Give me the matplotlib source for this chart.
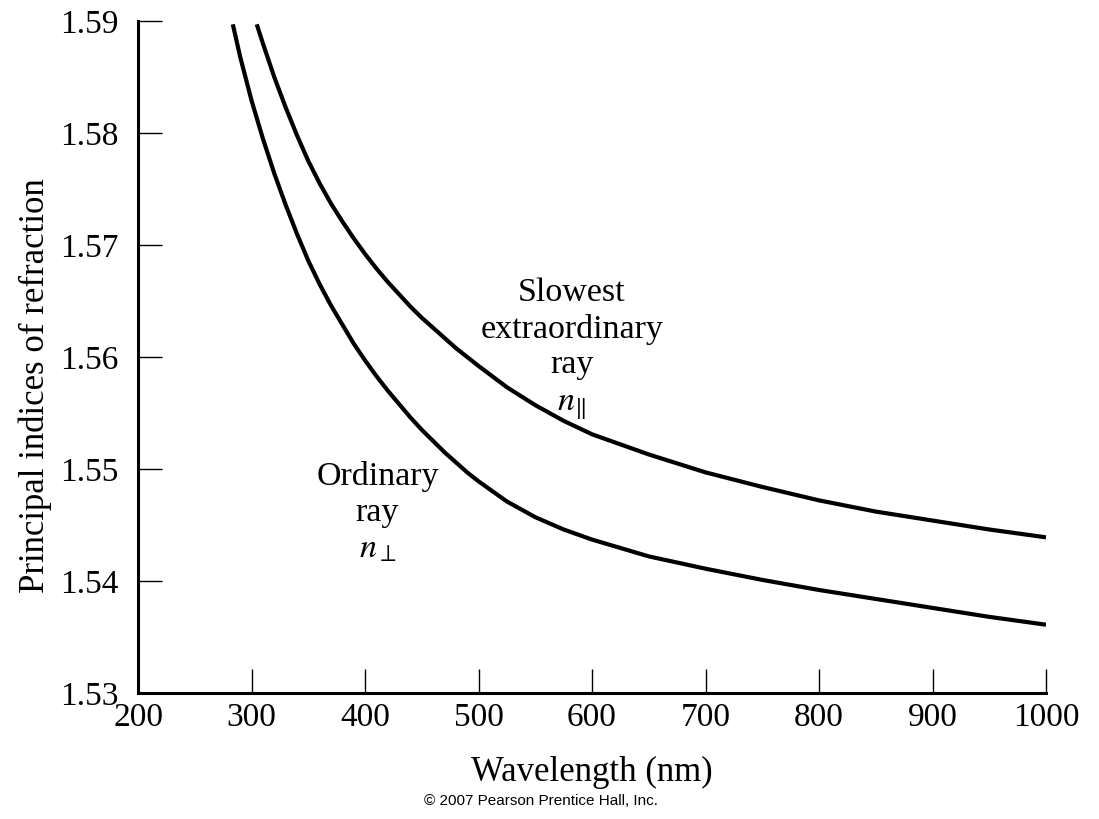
import matplotlib
matplotlib.use("Agg")
import matplotlib.pyplot as plt

# values
wl_ordinary = [283.5, 290, 300, 310, 320, 330, 340, 350, 360, 370, 380, 390,
               400, 410, 420, 430, 440, 450, 460, 470, 480, 490, 500, 525,
               550, 575, 600, 650, 700, 750, 800, 850, 900, 950, 1000]
n_ordinary = [1.5897, 1.5868, 1.5829, 1.5795, 1.5764, 1.5736, 1.5710, 1.5686,
              1.5665, 1.5646, 1.5629, 1.5612, 1.5597, 1.5583, 1.5570, 1.5558,
              1.5546, 1.5535, 1.5525, 1.5515, 1.5506, 1.5497, 1.5489, 1.5471,
              1.5457, 1.5446, 1.5437, 1.5422, 1.5411, 1.5401, 1.5392, 1.5384,
              1.5376, 1.5368, 1.5361]

wl_extra = [304.6, 310, 320, 330, 340, 350, 360, 370, 380, 390, 400, 410,
            420, 430, 440, 450, 460, 470, 480, 490, 500, 525, 550, 575, 600,
            650, 700, 750, 800, 850, 900, 950, 1000]
n_extra = [1.5897, 1.5880, 1.5850, 1.5823, 1.5798, 1.5775, 1.5755, 1.5737,
           1.5721, 1.5706, 1.5692, 1.5679, 1.5667, 1.5656, 1.5645, 1.5635,
           1.5626, 1.5617, 1.5608, 1.5600, 1.5592, 1.5573, 1.5557, 1.5543,
           1.5531, 1.5513, 1.5497, 1.5484, 1.5472, 1.5462, 1.5454, 1.5446,
           1.5439]

x_ticks = [200, 300, 400, 500, 600, 700, 800, 900, 1000]
y_ticks = [1.53, 1.54, 1.55, 1.56, 1.57, 1.58, 1.59]

plt.rcParams['font.family'] = ['Liberation Serif', 'DejaVu Serif']
plt.rcParams['mathtext.fontset'] = 'stix'

fig = plt.figure(figsize=(10.99, 8.19), dpi=100)
ax = fig.add_axes([0.1256, 0.1538, 0.8262, 0.8206])

ax.plot(wl_ordinary, n_ordinary, color='black', lw=3.0,
        solid_capstyle='butt', solid_joinstyle='round')
ax.plot(wl_extra, n_extra, color='black', lw=3.0,
        solid_capstyle='butt', solid_joinstyle='round')

ax.set_xlim(200, 1000)
ax.set_ylim(1.53, 1.59)
ax.set_xticks(x_ticks)
ax.set_yticks(y_ticks)
ax.set_xticklabels([str(v) for v in x_ticks])
ax.set_yticklabels(['%.2f' % v for v in y_ticks])

for side in ['top', 'right']:
    ax.spines[side].set_visible(False)
for side in ['left', 'bottom']:
    ax.spines[side].set_linewidth(2.2)

ax.tick_params(axis='both', direction='in', length=17, width=1.0,
               labelsize=24)
ax.tick_params(axis='x', pad=7)
ax.tick_params(axis='y', pad=14)

ax.set_xlabel('Wavelength (nm)', fontsize=25, labelpad=16)
ax.set_ylabel('Principal indices of refraction', fontsize=25)
ax.yaxis.set_label_coords(-0.095, 0.458)

# curve labels
ax.text(582, 1.5625, 'Slowest\nextraordinary\nray', fontsize=24.5,
        ha='center', va='center', linespacing=1.22)
ax.text(582, 1.5556, r'$n_{\|}$', fontsize=24.5, ha='center', va='center')
ax.text(411, 1.5477, 'Ordinary\nray', fontsize=24.5,
        ha='center', va='center', linespacing=1.22)
ax.text(411, 1.5428, r'$n_{\perp}$', fontsize=24.5, ha='center', va='center')

fig.text(0.492, 0.022, '\u00a9 2007 Pearson Prentice Hall, Inc.',
         fontsize=11, family=['Liberation Sans', 'DejaVu Sans'],
         ha='center', va='center')

fig.savefig('out.png', dpi=100)
